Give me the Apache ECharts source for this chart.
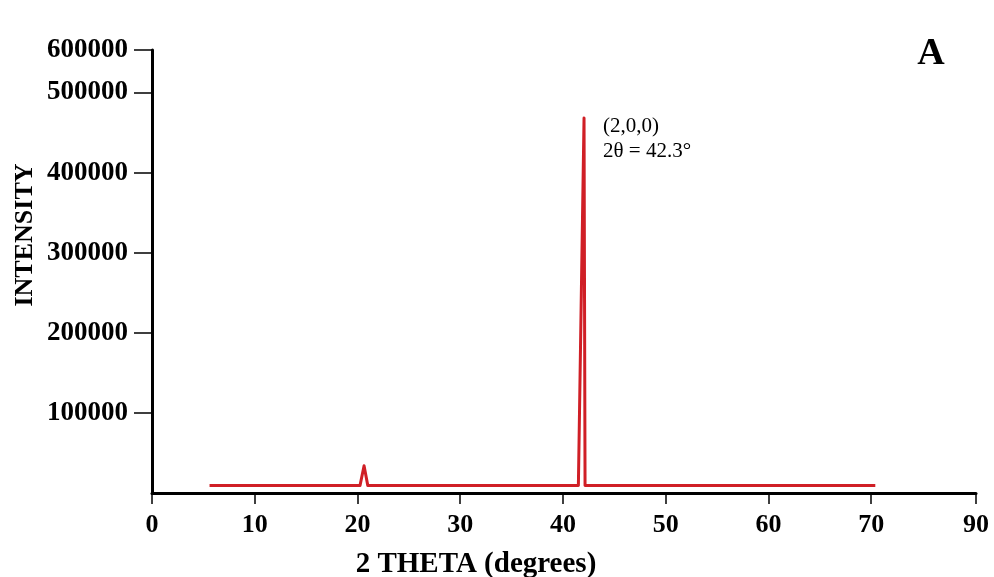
<!DOCTYPE html>
<html>
<head>
<meta charset="utf-8">
<script src="https://cdn.jsdelivr.net/npm/echarts@6/dist/echarts.min.js"></script>
<style>
html,body{margin:0;padding:0;background:#fff;}
#chart{width:994px;height:577px;}
</style>
</head>
<body>
<div id="chart"></div>
<script>
// Data
const twoTheta = [5.6, 20.25, 20.64, 21.0, 41.5, 42.05, 42.15, 70.4];
const intensity = [9500, 9500, 34000, 9500, 9500, 468000, 9500, 9500];

// Axis ticks (the last tick sits at the axis end and carries the end label)
const xTickValues = [0, 10, 20, 30, 40, 50, 60, 70, 80.2];
const xTickLabels = ['0', '10', '20', '30', '40', '50', '60', '70', '90'];
const yTickValues = [100000, 200000, 300000, 400000, 500000, 553000];
const yTickLabels = ['100000', '200000', '300000', '400000', '500000', '600000'];

const peakLabel = ['(2,0,0)', '2\u03b8 = 42.3\u00b0'];
const panelLabel = 'A';
const xTitle = '2 THETA (degrees)';
const yTitle = 'INTENSITY';

const serif = '"Liberation Serif", "Times New Roman", serif';

function lookup(values, labels, v) {
  for (let i = 0; i < values.length; i++) {
    if (Math.abs(values[i] - v) < 1e-6) return labels[i];
  }
  return '';
}

const chart = echarts.init(document.getElementById('chart'), null, {renderer: 'canvas'});
chart.setOption({
  animation: false,
  backgroundColor: '#ffffff',
  grid: {left: 152, right: 18, top: 50, bottom: 84, containLabel: false},
  xAxis: {
    type: 'value',
    min: 0,
    max: 80.2,
    axisLine: {show: true, lineStyle: {color: '#000', width: 3}},
    axisTick: {show: true, length: 11, lineStyle: {color: '#000', width: 1.5}, customValues: xTickValues},
    axisLabel: {
      customValues: xTickValues,
      margin: 19,
      color: '#000',
      fontFamily: serif,
      fontWeight: 'bold',
      fontSize: 26,
      formatter: function (v) { return lookup(xTickValues, xTickLabels, v); }
    },
    splitLine: {show: false}
  },
  yAxis: {
    type: 'value',
    min: 0,
    max: 553000,
    axisLine: {show: true, lineStyle: {color: '#000', width: 3}},
    axisTick: {show: true, length: 18, lineStyle: {color: '#000', width: 1.5}, customValues: yTickValues},
    axisLabel: {
      customValues: yTickValues,
      margin: 24,
      color: '#000',
      fontFamily: serif,
      fontWeight: 'bold',
      fontSize: 27,
      formatter: function (v) { return lookup(yTickValues, yTickLabels, v); }
    },
    splitLine: {show: false}
  },
  series: [{
    type: 'line',
    data: twoTheta.map(function (x, i) { return [x, intensity[i]]; }),
    showSymbol: false,
    symbol: 'none',
    lineStyle: {color: '#d01f26', width: 3, join: 'round', cap: 'butt'},
    z: 3
  }],
  graphic: [
    {type: 'text', left: 603, top: 114, style: {text: peakLabel.join('\n'), font: '21px ' + serif, fill: '#000', lineHeight: 25}},
    {type: 'text', x: 931, y: 54, style: {text: panelLabel, font: 'bold 38px ' + serif, fill: '#000', align: 'center', verticalAlign: 'middle'}},
    {type: 'text', x: 476, y: 565, style: {text: xTitle, font: 'bold 29px ' + serif, fill: '#000', align: 'center', verticalAlign: 'middle'}},
    {type: 'text', x: 25, y: 235, rotation: Math.PI / 2, style: {text: yTitle, font: 'bold 26px ' + serif, fill: '#000', align: 'center', verticalAlign: 'middle'}}
  ]
});
</script>
</body>
</html>
